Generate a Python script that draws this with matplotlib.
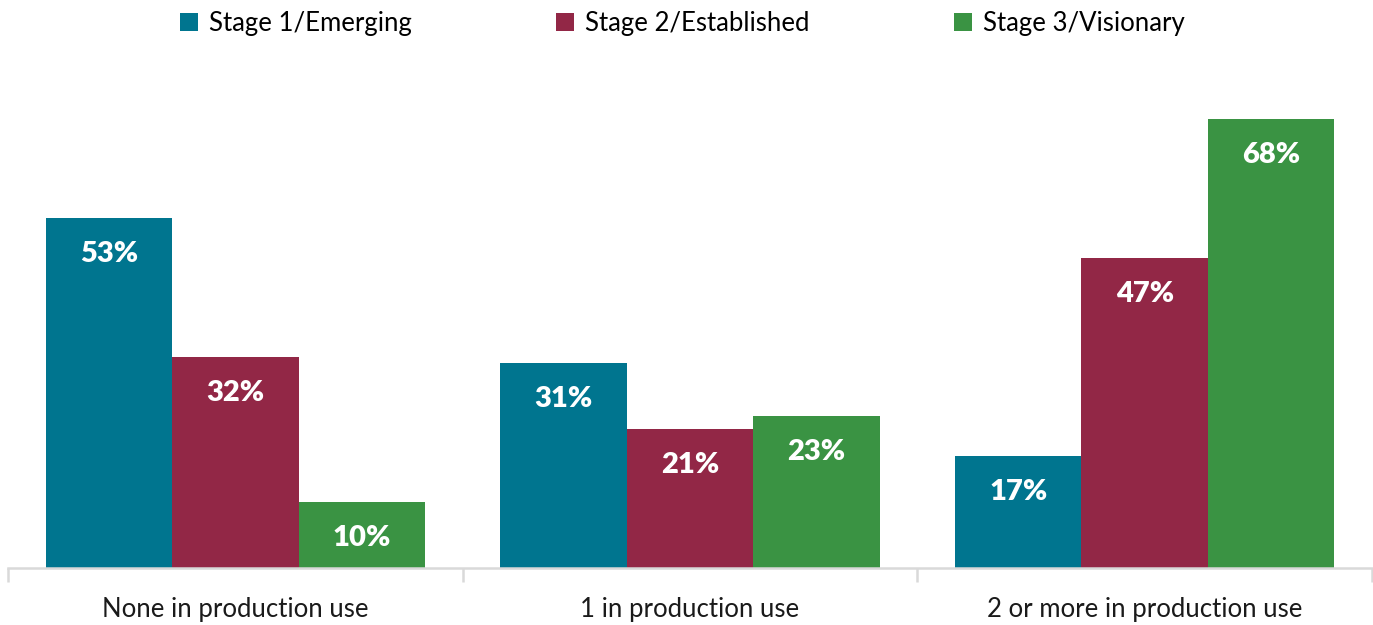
import matplotlib
matplotlib.use("Agg")
import matplotlib.pyplot as plt
from matplotlib.patches import Patch
import numpy as np

categories = ["None in production use", "1 in production use", "2 or more in production use"]
series_names = ["Stage 1/Emerging", "Stage 2/Established", "Stage 3/Visionary"]
stage1 = [53, 31, 17]
stage2 = [32, 21, 47]
stage3 = [10, 23, 68]
colors = ["#00758F", "#922746", "#3A9343"]

plt.rcParams["font.family"] = ["Lato", "DejaVu Sans"]

fig = plt.figure(figsize=(13.73, 6.25), dpi=100)
ax = fig.add_axes([8 / 1373, 57 / 625, 1364 / 1373, 508 / 625])

x = np.arange(len(categories))
width = 0.278
for i, (vals, c) in enumerate(zip([stage1, stage2, stage3], colors)):
    pos = x + (i - 1) * width
    ax.bar(pos, vals, width=width, color=c, edgecolor="none")
    for p, v in zip(pos, vals):
        ax.annotate(f"{v}%", (p, v), xytext=(0, -36), textcoords="offset pixels",
                    ha="center", va="center", color="white",
                    fontsize=21, fontweight="heavy")

ax.set_xlim(-0.5, 2.5)
ax.set_ylim(0, 77)
ax.set_yticks([])
for s in ["top", "right", "left"]:
    ax.spines[s].set_visible(False)
ax.spines["bottom"].set_color("#d9d9d9")
ax.spines["bottom"].set_linewidth(1.8)

# group boundary ticks
ax.set_xticks([-0.5, 0.5, 1.5, 2.5])
ax.set_xticklabels([])
ax.tick_params(axis="x", length=10, width=1.8, color="#d9d9d9")
for xi, lab in zip(x, categories):
    ax.annotate(lab, (xi, 0), xytext=(0, -41), textcoords="offset pixels",
                ha="center", va="center", fontsize=18.5, color="#1a1a1a")

handles = [Patch(facecolor=c, label=n) for c, n in zip(colors, series_names)]
fig.legend(handles=handles, loc="center", bbox_to_anchor=(0.497, 0.962), ncol=3,
           frameon=False, fontsize=18.5, handlelength=0.7, handleheight=0.7,
           handletextpad=0.45, columnspacing=5.6)

fig.savefig("out.png", dpi=100, facecolor="white")
